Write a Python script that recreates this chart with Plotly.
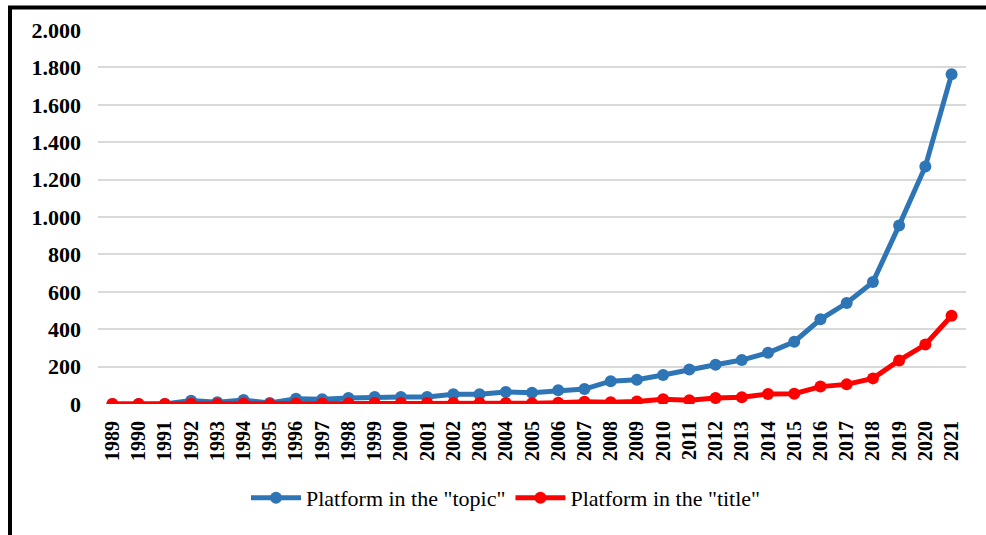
import plotly.graph_objects as go

years = [str(y) for y in range(1989, 2022)]
topic = [0, 0, 0, 18, 10, 22, 5, 28, 25, 32, 38, 38, 38, 52, 52, 64, 60, 73, 80, 122, 130, 155, 185, 210, 235, 274, 333, 453, 540, 652, 955, 1270, 1763]
title = [0, 0, 0, 2, 0, 3, 0, 3, 3, 4, 5, 5, 5, 6, 6, 6, 4, 7, 12, 10, 14, 26, 20, 32, 36, 53, 55, 93, 105, 137, 233, 318, 472]

y_ticks = [0, 200, 400, 600, 800, 1000, 1200, 1400, 1600, 1800, 2000]

BLUE = "#2E75B6"
RED = "#FF0000"
SERIF = "Times New Roman, Liberation Serif, Tinos, DejaVu Serif, serif"

fig = go.Figure()
fig.add_trace(go.Scatter(
    x=years, y=topic, name='Platform in the "topic"', mode="lines+markers",
    line=dict(color=BLUE, width=5), marker=dict(color=BLUE, size=12),
))
fig.add_trace(go.Scatter(
    x=years, y=title, name='Platform in the "title"', mode="lines+markers",
    line=dict(color=RED, width=5), marker=dict(color=RED, size=12),
))

# plot area in pixels: x 98..966, y 30..404
L, R, T, B = 98, 20, 30, 131
W, H = 986, 535
pw, ph = W - L - R, H - T - B

def px_x(p):
    return (p - L) / pw

def px_y(p):
    return (H - B - p) / ph

shapes = [
    dict(type="line", xref="paper", yref="paper",
         x0=px_x(10), x1=px_x(10), y0=px_y(6), y1=px_y(W),
         line=dict(color="black", width=4)),
    dict(type="line", xref="paper", yref="paper",
         x0=px_x(8), x1=px_x(W + 5), y0=px_y(7.5), y1=px_y(7.5),
         line=dict(color="black", width=4)),
]

fig.update_layout(
    width=W, height=H,
    margin=dict(l=L, r=R, t=T, b=B),
    paper_bgcolor="white", plot_bgcolor="white",
    separators=",.",
    font=dict(family=SERIF, color="black"),
    showlegend=True,
    legend=dict(orientation="h", x=px_x(506), xanchor="center",
                y=px_y(498), yanchor="middle",
                font=dict(family=SERIF, size=22, color="black"),
                itemwidth=50, tracegroupgap=0),
    shapes=shapes,
    xaxis=dict(
        type="category", tickangle=-90, showgrid=False, zeroline=False,
        showline=False, ticks="", range=[-0.55, 32.55],
        tickfont=dict(family=SERIF, size=20, color="black", weight="bold"),
        ticklabelstandoff=12,
    ),
    yaxis=dict(
        range=[0, 2000], tickvals=y_ticks, tickformat=",d",
        showgrid=True, gridcolor="#D9D9D9", gridwidth=2,
        zeroline=False, showline=False, ticks="",
        tickfont=dict(family=SERIF, size=22, color="black", weight="bold"),
        ticklabelstandoff=16,
    ),
)

fig.write_html("out.html")
